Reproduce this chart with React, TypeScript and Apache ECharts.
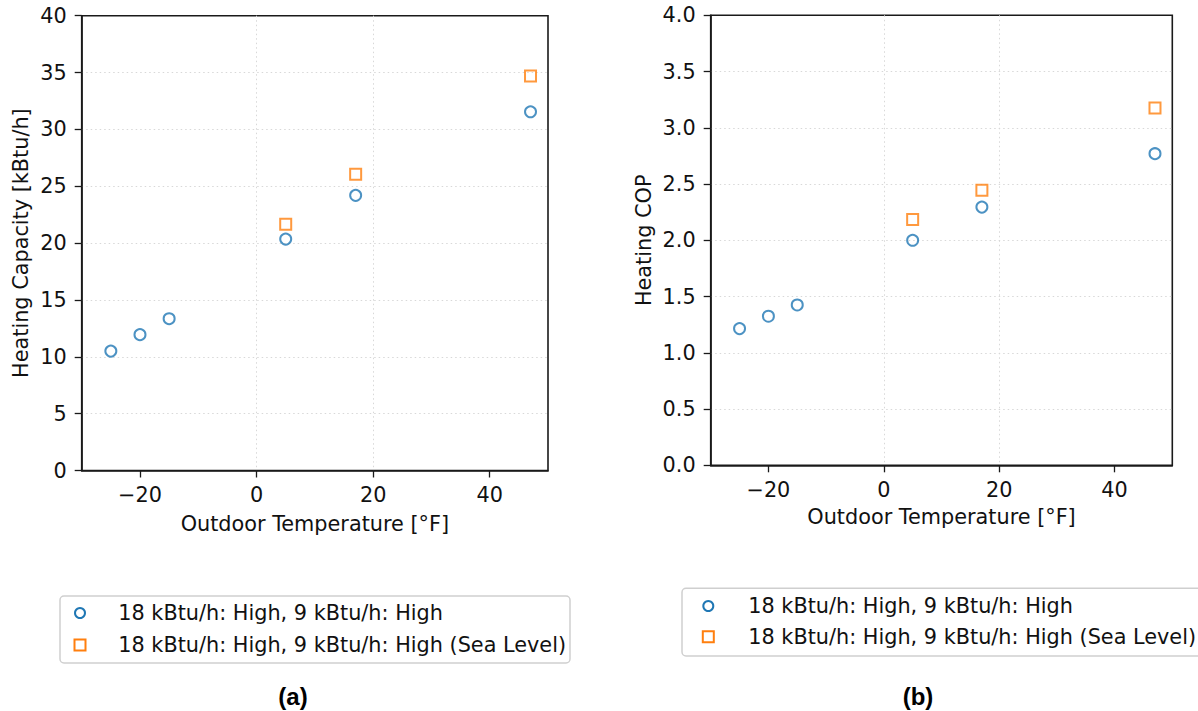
import React, { useEffect, useRef } from "react";
import * as echarts from "echarts";

// Outdoor temperatures [°F] of the test points
const temps = [-25, -20, -15, 5, 17, 47];
const seaTemps = [5, 17, 47];

// Heating capacity [kBtu/h]
const capacity = [10.5, 11.95, 13.35, 20.35, 24.2, 31.55];
const seaCapacity = [21.65, 26.05, 34.7];

// Heating COP
const cop = [1.215, 1.325, 1.425, 2.0, 2.295, 2.77];
const seaCop = [2.185, 2.445, 3.175];

const xTicks = [-20, 0, 20, 40];
const seriesNames = [
  "18 kBtu/h: High, 9 kBtu/h: High",
  "18 kBtu/h: High, 9 kBtu/h: High (Sea Level)",
];
const panelCaptions = ["(a)", "(b)"];
const yTitles = ["Heating Capacity [kBtu/h]", "Heating COP"];
const xTitle = "Outdoor Temperature [°F]";

const BLUE = "#1f77b4";
const ORANGE = "#ff7f0e";
const FONT = "DejaVu Sans";
const FS = 20.8;
const FRAME = "#1a1a1a";

const pairs = (xs: number[], ys: number[]) => xs.map((x, i) => [x, ys[i]]);
const minus = (s: string) => s.replace("-", "\u2212");

const gridLine = {
  show: true,
  showMinLine: false,
  showMaxLine: false,
  lineStyle: { color: "#d8d8d8", width: 1, type: [1.5, 3] },
};

function xAxisFor(gridIndex: number, nameGap: number) {
  return {
    type: "value",
    gridIndex,
    min: -30,
    max: 50,
    name: xTitle,
    nameLocation: "middle",
    nameGap,
    nameTextStyle: { fontFamily: FONT, fontSize: FS, color: "#111" },
    axisLine: { show: true, onZero: false, lineStyle: { color: FRAME, width: 1.6 } },
    axisTick: {
      show: true,
      length: 7,
      customValues: xTicks,
      lineStyle: { color: FRAME, width: 1.3 },
    },
    axisLabel: {
      customValues: xTicks,
      margin: 14,
      fontFamily: FONT,
      fontSize: FS,
      color: "#111",
      formatter: (v: number) => minus(String(v)),
    },
    splitLine: gridLine,
  };
}

function yAxisFor(
  gridIndex: number,
  max: number,
  interval: number,
  digits: number,
  nameGap: number
) {
  return {
    type: "value",
    gridIndex,
    min: 0,
    max,
    interval,
    name: yTitles[gridIndex],
    nameLocation: "middle",
    nameGap,
    nameTextStyle: { fontFamily: FONT, fontSize: FS, color: "#111" },
    axisLine: { show: true, onZero: false, lineStyle: { color: FRAME, width: 1.6 } },
    axisTick: { show: true, length: 7, lineStyle: { color: FRAME, width: 1.3 } },
    axisLabel: {
      margin: 15,
      fontFamily: FONT,
      fontSize: FS,
      color: "#111",
      formatter: (v: number) => v.toFixed(digits),
    },
    splitLine: gridLine,
  };
}

function scatter(name: string, data: number[][], idx: number, square: boolean) {
  const color = square ? ORANGE : BLUE;
  return {
    type: "scatter",
    name,
    xAxisIndex: idx,
    yAxisIndex: idx,
    data,
    symbol: square ? "rect" : "circle",
    symbolSize: 11,
    itemStyle: { color: "rgba(255,255,255,0)", borderColor: color, borderWidth: 2 },
    emphasis: { disabled: true },
    z: square ? 3 : 4,
  };
}

function legendBox(
  x: number,
  y: number,
  w: number,
  h: number,
  rowGap: number,
  textX: number,
  markX: number,
  firstY: number
) {
  const label = (text: string, ty: number) => ({
    type: "text",
    x: textX,
    y: ty,
    style: {
      text,
      font: `${FS}px "${FONT}"`,
      fill: "#111",
      verticalAlign: "middle",
      align: "left",
    },
  });
  return {
    type: "group",
    children: [
      {
        type: "rect",
        shape: { x, y, width: w, height: h, r: 4 },
        style: { fill: "#fff", stroke: "#cfcfcf", lineWidth: 1.5 },
      },
      {
        type: "circle",
        shape: { cx: markX, cy: firstY, r: 5 },
        style: { fill: "none", stroke: BLUE, lineWidth: 2 },
      },
      {
        type: "rect",
        shape: { x: markX - 5.5, y: firstY + rowGap - 5.5, width: 11, height: 11 },
        style: { fill: "none", stroke: ORANGE, lineWidth: 2 },
      },
      label(seriesNames[0], firstY),
      label(seriesNames[1], firstY + rowGap),
    ],
  };
}

function caption(text: string, cx: number) {
  return {
    type: "text",
    x: cx,
    y: 696,
    style: {
      text,
      font: 'bold 24px "Liberation Sans", Arial, sans-serif',
      fill: "#000",
      align: "center",
      verticalAlign: "middle",
    },
  };
}

export default function App() {
  const ref = useRef<HTMLDivElement>(null);

  useEffect(() => {
    if (!ref.current) return;
    const chart = echarts.init(ref.current, undefined, { renderer: "svg" });
    chart.setOption({
      animation: false,
      backgroundColor: "#fff",
      grid: [
        {
          left: 81.7,
          top: 15.7,
          width: 466.3,
          height: 454.8,
          show: true,
          borderColor: FRAME,
          borderWidth: 1.6,
          backgroundColor: "transparent",
        },
        {
          left: 710.7,
          top: 15.3,
          width: 461.6,
          height: 450,
          show: true,
          borderColor: FRAME,
          borderWidth: 1.6,
          backgroundColor: "transparent",
        },
      ],
      xAxis: [xAxisFor(0, 43), xAxisFor(1, 41)],
      yAxis: [yAxisFor(0, 40, 5, 0, 50), yAxisFor(1, 4, 0.5, 1, 56)],
      series: [
        scatter(seriesNames[0], pairs(temps, capacity), 0, false),
        scatter(seriesNames[1], pairs(seaTemps, seaCapacity), 0, true),
        scatter(seriesNames[0], pairs(temps, cop), 1, false),
        scatter(seriesNames[1], pairs(seaTemps, seaCop), 1, true),
      ],
      graphic: [
        legendBox(60, 596, 510, 67, 32, 118.3, 80, 613),
        legendBox(682, 588.3, 530, 67.7, 30.7, 748.3, 708.3, 606),
        caption(panelCaptions[0], 293),
        caption(panelCaptions[1], 918),
      ],
    });
    return () => chart.dispose();
  }, []);

  return (
    <div
      ref={ref}
      style={{ position: "absolute", left: 0, top: 0, width: 1198, height: 711 }}
    />
  );
}
